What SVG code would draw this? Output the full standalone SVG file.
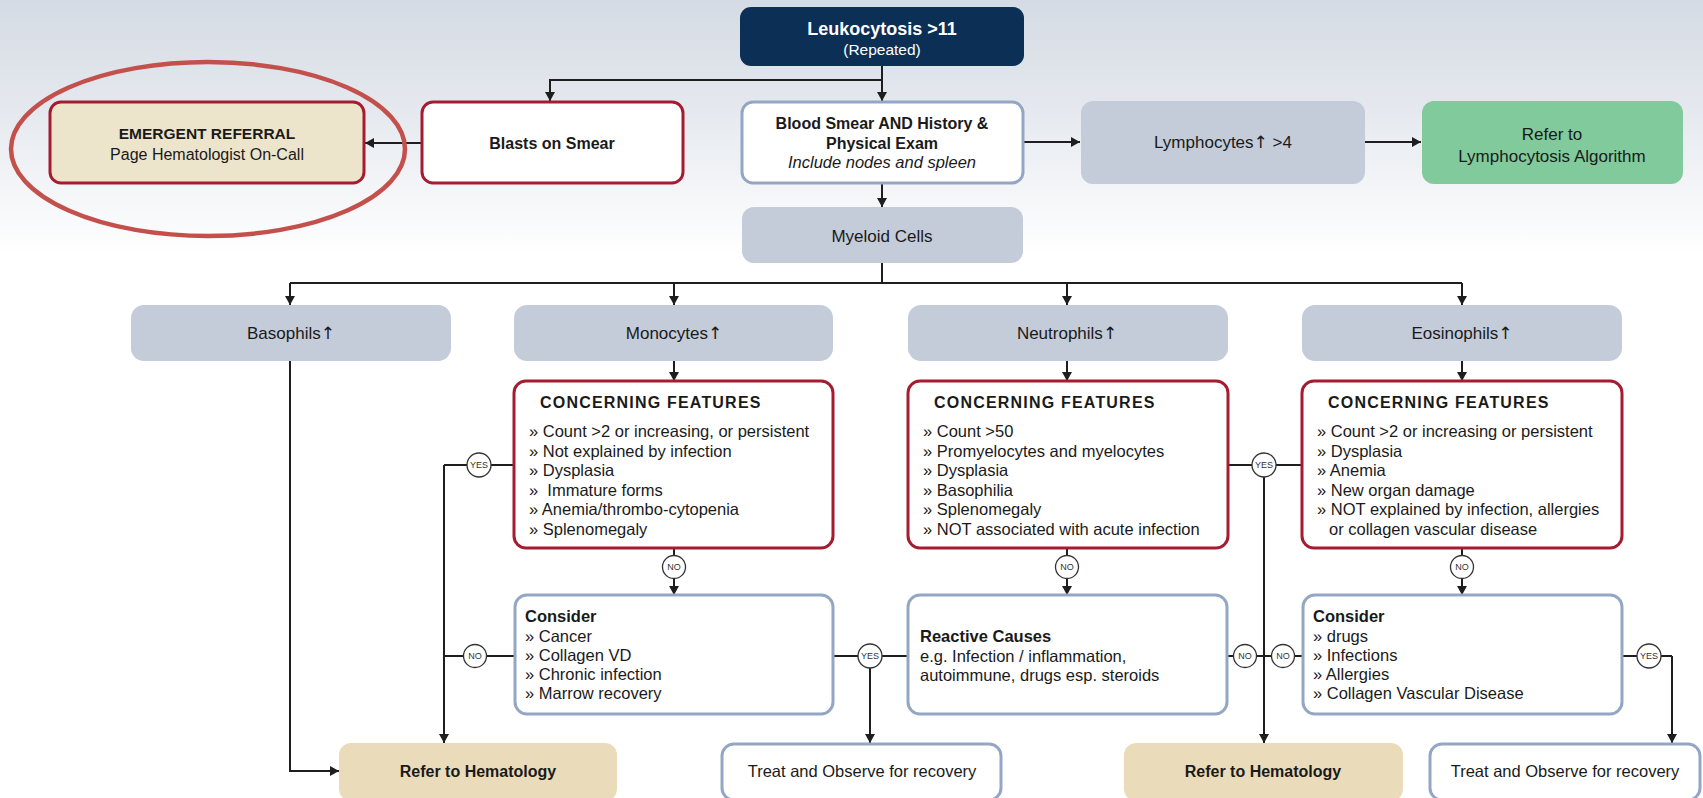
<svg xmlns="http://www.w3.org/2000/svg" width="1703" height="798" viewBox="0 0 1703 798">
  <defs>
    <linearGradient id="bg" x1="0" y1="0" x2="0" y2="1">
      <stop offset="0" stop-color="#d5dbe4"/>
      <stop offset="0.13" stop-color="#e4e8ee"/>
      <stop offset="0.32" stop-color="#ffffff"/>
      <stop offset="1" stop-color="#ffffff"/>
    </linearGradient>
    <marker id="arr" viewBox="0 0 9 10" refX="9" refY="5" markerWidth="9" markerHeight="10" markerUnits="userSpaceOnUse" orient="auto">
      <path d="M0,0 L9,5 L0,10 z" fill="#1e1e1e"/>
    </marker>
    <style>
      text { font-family: "Liberation Sans", Arial, sans-serif; fill: #1a1a1a; }
      .up { font-family: "DejaVu Sans", sans-serif; }
      .navy { fill: #0c2f56; }
      .gray { fill: #c4cbd9; }
      .tan { fill: #eadcba; }
      .green { fill: #80ca9b; }
      .redbox { fill: #ffffff; stroke: #a51c30; stroke-width: 3; }
      .bluebox { fill: #ffffff; stroke: #93a7c5; stroke-width: 3; }
      .lbl { font-size: 17px; text-anchor: middle; }
      .bold { font-weight: bold; }
      .title { font-size: 16px; font-weight: bold; letter-spacing: 1.2px; }
      .body { font-size: 16.5px; }
      .wire { fill: none; stroke: #1e1e1e; stroke-width: 2; }
      .arrow { marker-end: url(#arr); }
      .tag circle { fill: #ffffff; stroke: #333333; stroke-width: 1.3; }
      .tag text { font-size: 9px; text-anchor: middle; fill: #333333; }
    </style>
  </defs>

  <rect x="0" y="0" width="1703" height="798" fill="url(#bg)"/>

  <!-- connectors -->
  <g id="connectors">
    <!-- top section -->
    <path class="wire arrow" d="M882,66 V101"/>
    <path class="wire arrow" d="M882,80 H550 V101"/>
    <path class="wire arrow" d="M422,143 H365"/>
    <path class="wire arrow" d="M1023,142 H1080"/>
    <path class="wire arrow" d="M1365,142 H1421"/>
    <path class="wire arrow" d="M882,184 V207"/>
    <!-- myeloid fan-out -->
    <path class="wire" d="M882,263 V283 M290,283 H1462"/>
    <path class="wire arrow" d="M290,283 V305"/>
    <path class="wire arrow" d="M674,283 V305"/>
    <path class="wire arrow" d="M1067,283 V305"/>
    <path class="wire arrow" d="M1462,283 V305"/>
    <!-- into concerning features -->
    <path class="wire arrow" d="M674,361 V381"/>
    <path class="wire arrow" d="M1067,361 V381"/>
    <path class="wire arrow" d="M1462,361 V381"/>
    <!-- basophils to hematology -->
    <path class="wire arrow" d="M290,361 V771 H339"/>
    <!-- monocyte branch -->
    <path class="wire" d="M514,465 H444"/>
    <path class="wire arrow" d="M444,465 V743"/>
    <path class="wire" d="M515,656 H444"/>
    <path class="wire arrow" d="M674,548 V595"/>
    <path class="wire" d="M833,656 H908"/>
    <path class="wire arrow" d="M870,656 V743"/>
    <!-- neutrophil branch -->
    <path class="wire arrow" d="M1067,548 V595"/>
    <path class="wire" d="M1228,465 H1302"/>
    <path class="wire arrow" d="M1264,465 V743"/>
    <path class="wire" d="M1227,656 H1303"/>
    <!-- eosinophil branch -->
    <path class="wire arrow" d="M1462,548 V595"/>
    <path class="wire" d="M1622,656 H1672"/>
    <path class="wire arrow" d="M1672,656 V743"/>

    <!-- yes / no tags -->
    <g class="tag"><circle cx="479" cy="465" r="12"/><text x="479" y="468.2">YES</text></g>
    <g class="tag"><circle cx="475" cy="656" r="11.5"/><text x="475" y="659.2">NO</text></g>
    <g class="tag"><circle cx="674" cy="567" r="11.5"/><text x="674" y="570.2">NO</text></g>
    <g class="tag"><circle cx="870" cy="656" r="12"/><text x="870" y="659.2">YES</text></g>
    <g class="tag"><circle cx="1067" cy="567" r="11.5"/><text x="1067" y="570.2">NO</text></g>
    <g class="tag"><circle cx="1264" cy="465" r="12"/><text x="1264" y="468.2">YES</text></g>
    <g class="tag"><circle cx="1245" cy="656" r="11.5"/><text x="1245" y="659.2">NO</text></g>
    <g class="tag"><circle cx="1283" cy="656" r="11.5"/><text x="1283" y="659.2">NO</text></g>
    <g class="tag"><circle cx="1462" cy="567" r="11.5"/><text x="1462" y="570.2">NO</text></g>
    <g class="tag"><circle cx="1649" cy="656" r="12"/><text x="1649" y="659.2">YES</text></g>
  </g>

  <!-- top row -->
  <g id="leukocytosis">
    <rect class="navy" x="740" y="7" width="284" height="59" rx="11"/>
    <text x="882" y="35" text-anchor="middle" font-size="18" font-weight="bold" style="fill:#ffffff">Leukocytosis &gt;11</text>
    <text x="882" y="55" text-anchor="middle" font-size="15.5" style="fill:#ffffff">(Repeated)</text>
  </g>

  <g id="emergent-referral">
    <rect x="50" y="102" width="314" height="81" rx="11" fill="#ede4cc" stroke="#a51c30" stroke-width="3"/>
    <text x="207" y="139" text-anchor="middle" font-size="15.5" font-weight="bold">EMERGENT REFERRAL</text>
    <text x="207" y="160" text-anchor="middle" font-size="16">Page Hematologist On-Call</text>
  </g>
  <ellipse id="highlight" cx="208" cy="149" rx="197" ry="87" fill="none" stroke="#c4504c" stroke-width="4.5"/>

  <g id="blasts">
    <rect class="redbox" x="422" y="102" width="261" height="81" rx="11"/>
    <text x="552" y="149" text-anchor="middle" font-size="16" font-weight="bold">Blasts on Smear</text>
  </g>

  <g id="blood-smear">
    <rect class="bluebox" x="742" y="102" width="281" height="81" rx="11"/>
    <text x="882" y="129" text-anchor="middle" font-size="16" font-weight="bold">Blood Smear AND History &amp;</text>
    <text x="882" y="149" text-anchor="middle" font-size="16" font-weight="bold">Physical Exam</text>
    <text x="882" y="168" text-anchor="middle" font-size="16.5" font-style="italic">Include nodes and spleen</text>
  </g>

  <g id="lymphocytes">
    <rect class="gray" x="1081" y="101" width="284" height="83" rx="12"/>
    <text class="lbl" x="1223" y="148">Lymphocytes<tspan class="up">↑</tspan> &gt;4</text>
  </g>

  <g id="lymphocytosis-referral">
    <rect class="green" x="1422" y="101" width="261" height="83" rx="12"/>
    <text class="lbl" x="1552" y="140">Refer to</text>
    <text class="lbl" x="1552" y="162">Lymphocytosis Algorithm</text>
  </g>

  <g id="myeloid">
    <rect class="gray" x="742" y="207" width="281" height="56" rx="12"/>
    <text class="lbl" x="882" y="242">Myeloid Cells</text>
  </g>

  <!-- cell lines -->
  <g id="basophils">
    <rect class="gray" x="131" y="305" width="320" height="56" rx="13"/>
    <text class="lbl" x="291" y="339">Basophils<tspan class="up">↑</tspan></text>
  </g>
  <g id="monocytes">
    <rect class="gray" x="514" y="305" width="319" height="56" rx="13"/>
    <text class="lbl" x="674" y="339">Monocytes<tspan class="up">↑</tspan></text>
  </g>
  <g id="neutrophils">
    <rect class="gray" x="908" y="305" width="320" height="56" rx="13"/>
    <text class="lbl" x="1067" y="339">Neutrophils<tspan class="up">↑</tspan></text>
  </g>
  <g id="eosinophils">
    <rect class="gray" x="1302" y="305" width="320" height="56" rx="13"/>
    <text class="lbl" x="1462" y="339">Eosinophils<tspan class="up">↑</tspan></text>
  </g>

  <!-- concerning features -->
  <g id="monocytes-concerning">
    <rect class="redbox" x="514" y="381" width="319" height="167" rx="12"/>
    <text class="title" x="540" y="408">CONCERNING FEATURES</text>
    <text class="body" x="529" y="437">» Count &gt;2 or increasing, or persistent</text>
    <text class="body" x="529" y="456.5">» Not explained by infection</text>
    <text class="body" x="529" y="476">» Dysplasia</text>
    <text class="body" x="529" y="495.5">»&#160; Immature forms</text>
    <text class="body" x="529" y="515">» Anemia/thrombo-cytopenia</text>
    <text class="body" x="529" y="534.5">» Splenomegaly</text>
  </g>
  <g id="neutrophils-concerning">
    <rect class="redbox" x="908" y="381" width="320" height="167" rx="12"/>
    <text class="title" x="934" y="408">CONCERNING FEATURES</text>
    <text class="body" x="923" y="437">» Count &gt;50</text>
    <text class="body" x="923" y="456.5">» Promyelocytes and myelocytes</text>
    <text class="body" x="923" y="476">» Dysplasia</text>
    <text class="body" x="923" y="495.5">» Basophilia</text>
    <text class="body" x="923" y="515">» Splenomegaly</text>
    <text class="body" x="923" y="534.5">» NOT associated with acute infection</text>
  </g>
  <g id="eosinophils-concerning">
    <rect class="redbox" x="1302" y="381" width="320" height="167" rx="12"/>
    <text class="title" x="1328" y="408">CONCERNING FEATURES</text>
    <text class="body" x="1317" y="437">» Count &gt;2 or increasing or persistent</text>
    <text class="body" x="1317" y="456.5">» Dysplasia</text>
    <text class="body" x="1317" y="476">» Anemia</text>
    <text class="body" x="1317" y="495.5">» New organ damage</text>
    <text class="body" x="1317" y="515">» NOT explained by infection, allergies</text>
    <text class="body" x="1329" y="534.5">or collagen vascular disease</text>
  </g>

  <!-- second-line considerations -->
  <g id="monocytes-consider">
    <rect class="bluebox" x="515" y="595" width="318" height="119" rx="12"/>
    <text class="body bold" x="525" y="622">Consider</text>
    <text class="body" x="525" y="642">» Cancer</text>
    <text class="body" x="525" y="661">» Collagen VD</text>
    <text class="body" x="525" y="680">» Chronic infection</text>
    <text class="body" x="525" y="699">» Marrow recovery</text>
  </g>
  <g id="reactive-causes">
    <rect class="bluebox" x="908" y="595" width="319" height="119" rx="12"/>
    <text class="body bold" x="920" y="642">Reactive Causes</text>
    <text class="body" x="920" y="662">e.g. Infection / inflammation,</text>
    <text class="body" x="920" y="681">autoimmune, drugs esp. steroids</text>
  </g>
  <g id="eosinophils-consider">
    <rect class="bluebox" x="1303" y="595" width="319" height="119" rx="12"/>
    <text class="body bold" x="1313" y="622">Consider</text>
    <text class="body" x="1313" y="642">» drugs</text>
    <text class="body" x="1313" y="661">» Infections</text>
    <text class="body" x="1313" y="680">» Allergies</text>
    <text class="body" x="1313" y="699">» Collagen Vascular Disease</text>
  </g>

  <!-- outcomes -->
  <g id="refer-hematology-1">
    <rect class="tan" x="339" y="743" width="278" height="58" rx="12"/>
    <text x="478" y="777" text-anchor="middle" font-size="16" font-weight="bold">Refer to Hematology</text>
  </g>
  <g id="treat-observe-1">
    <rect class="bluebox" x="722" y="744" width="279" height="56" rx="12"/>
    <text x="862" y="777" text-anchor="middle" font-size="16.5">Treat and Observe for recovery</text>
  </g>
  <g id="refer-hematology-2">
    <rect class="tan" x="1124" y="743" width="279" height="58" rx="12"/>
    <text x="1263" y="777" text-anchor="middle" font-size="16" font-weight="bold">Refer to Hematology</text>
  </g>
  <g id="treat-observe-2">
    <rect class="bluebox" x="1430" y="744" width="270" height="56" rx="12"/>
    <text x="1565" y="777" text-anchor="middle" font-size="16.5">Treat and Observe for recovery</text>
  </g>
</svg>
